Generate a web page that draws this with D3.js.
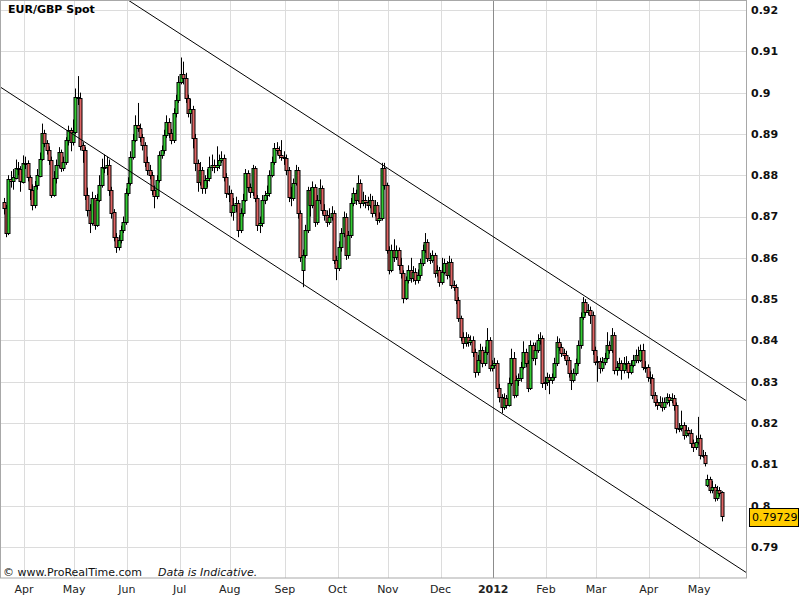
<!DOCTYPE html>
<html>
<head>
<meta charset="utf-8">
<script src="https://cdn.jsdelivr.net/npm/d3@7"></script>
<style>
body { margin: 0; background: #fff; }
text { font-family: Verdana, "DejaVu Sans", sans-serif; }
</style>
</head>
<body>
<script>
// daily EUR/GBP candles, prices in pips (x 0.0001), first session Mon 21 Mar 2011
var firstDay = new Date(2011, 2, 21);

var opens = [
8735,8720,8660,8790,8785,8795,8818,8815,8785,8830, 8830,8795,8765,8728,8775,8800,8840,8903,8878,8860,
8837,8752,8793,8825,8856,8818,8832,8885,8910,8880, 8905,8990,8988,8873,8860,8752,8716,8685,8745,8680,
8740,8776,8820,8820,8825,8765,8710,8650,8626,8643, 8667,8687,8757,8781,8844,8885,8921,8914,8892,8873,
8832,8813,8800,8764,8750,8788,8849,8860,8897,8929, 8902,8885,8950,8982,9026,9045,9035,8987,8950,8960,
8890,8830,8784,8813,8769,8788,8793,8820,8825,8820, 8825,8837,8842,8796,8757,8757,8711,8728,8733,8667,
8708,8740,8805,8771,8759,8817,8745,8680,8685,8740, 8752,8757,8800,8832,8866,8861,8849,8844,8842,8813,
8747,8745,8781,8813,8708,8571,8607,8667,8764,8728, 8771,8687,8740,8769,8716,8704,8687,8699,8708,8595,
8575,8626,8660,8699,8607,8655,8733,8757,8740,8781, 8733,8740,8735,8728,8740,8708,8728,8692,8697,8818,
8776,8619,8571,8619,8602,8619,8583,8563,8503,8546, 8570,8551,8566,8546,8558,8587,8619,8638,8600,8595,
8607,8563,8570,8541,8566,8587,8558,8590,8534,8530, 8498,8454,8408,8394,8408,8396,8401,8372,8324,8353,
8377,8345,8372,8401,8333,8341,8345,8285,8263,8239, 8261,8244,8297,8358,8268,8304,8309,8336,8372,8345,
8285,8389,8358,8377,8401,8406,8297,8299,8311,8304, 8311,8345,8396,8384,8370,8365,8353,8321,8304,8321,
8345,8389,8457,8493,8469,8474,8462,8377,8348,8350, 8333,8348,8358,8389,8377,8413,8328,8336,8345,8328,
8345,8345,8324,8341,8353,8365,8353,8377,8336,8336, 8312,8310,8268,8251,8244,8251,8239,8251,8263,8256,
8261,8244,8188,8188,8195,8171,8183,8176,8152,8142, 8154,8164,8123,8123,8050,8065,8039,8046,8020,8039,
8032
];

var highs = [
8745,8728,8800,8810,8815,8838,8832,8822,8848,8845, 8836,8800,8778,8786,8815,8855,8925,8910,8885,8870,
8845,8810,8838,8868,8862,8845,8892,8920,8915,8935, 9010,9040,9000,8880,8868,8770,8730,8760,8752,8755,
8800,8840,8850,8845,8838,8772,8718,8660,8655,8678, 8700,8768,8795,8858,8900,8945,8975,8925,8900,8880,
8845,8825,8808,8775,8800,8858,8872,8910,8945,8938, 8912,8962,8995,9040,9085,9075,9048,8995,8985,8968,
8900,8838,8832,8820,8800,8815,8845,8850,8838,8870, 8850,8858,8850,8805,8775,8765,8745,8748,8740,8720,
8755,8815,8812,8780,8825,8822,8752,8700,8752,8762, 8775,8812,8845,8878,8880,8870,8885,8858,8850,8820,
8772,8792,8825,8820,8715,8620,8680,8772,8770,8785, 8778,8752,8790,8775,8730,8715,8720,8725,8715,8605,
8640,8672,8712,8708,8665,8745,8770,8765,8800,8790, 8760,8752,8748,8755,8750,8740,8735,8710,8830,8830,
8782,8628,8632,8645,8630,8625,8600,8570,8555,8582, 8600,8580,8575,8572,8598,8632,8660,8645,8612,8618,
8612,8582,8578,8600,8598,8592,8605,8598,8545,8536, 8505,8460,8420,8420,8415,8412,8410,8380,8365,8392,
8385,8385,8430,8408,8352,8358,8352,8295,8270,8272, 8268,8310,8380,8372,8315,8320,8348,8398,8380,8352,
8400,8395,8395,8415,8420,8412,8312,8322,8318,8320, 8358,8410,8405,8392,8380,8375,8360,8328,8332,8356,
8400,8468,8505,8500,8488,8482,8470,8385,8362,8358, 8360,8370,8420,8398,8430,8420,8350,8358,8352,8360,
8362,8350,8352,8365,8378,8385,8390,8392,8350,8342, 8325,8318,8275,8258,8265,8262,8262,8272,8270,8272,
8268,8250,8200,8230,8202,8195,8190,8185,8160,8170, 8215,8172,8135,8130,8075,8070,8060,8052,8048,8045,
8035
];

var lows = [
8705,8650,8655,8770,8765,8790,8800,8760,8780,8815, 8785,8740,8715,8720,8765,8795,8835,8868,8850,8825,
8745,8748,8780,8818,8808,8810,8825,8872,8858,8872, 8900,8970,8860,8830,8740,8700,8660,8678,8668,8675,
8735,8770,8805,8800,8750,8695,8640,8612,8618,8635, 8660,8680,8750,8775,8838,8880,8905,8880,8860,8820,
8800,8790,8752,8720,8742,8782,8840,8852,8890,8890, 8875,8878,8940,8975,9020,9020,8975,8940,8925,8865,
8810,8760,8775,8755,8755,8770,8785,8810,8805,8810, 8815,8830,8785,8745,8735,8700,8690,8710,8650,8660,
8700,8735,8760,8745,8750,8735,8665,8660,8675,8730, 8740,8748,8795,8825,8850,8840,8835,8825,8800,8735,
8725,8738,8775,8695,8590,8529,8600,8660,8700,8720, 8675,8680,8730,8705,8690,8675,8680,8690,8585,8546,
8568,8615,8650,8595,8598,8648,8725,8728,8735,8720, 8725,8720,8715,8720,8698,8700,8680,8685,8690,8765,
8610,8560,8565,8590,8595,8570,8550,8490,8498,8538, 8540,8542,8535,8538,8550,8580,8612,8590,8585,8588,
8552,8555,8530,8535,8560,8548,8552,8525,8520,8488, 8445,8398,8380,8385,8385,8388,8360,8310,8315,8345,
8335,8338,8365,8325,8325,8332,8275,8250,8224,8232, 8235,8240,8290,8260,8262,8290,8300,8330,8335,8275,
8280,8350,8340,8370,8390,8285,8280,8290,8270,8295, 8305,8338,8375,8360,8355,8340,8310,8280,8298,8315,
8338,8380,8450,8460,8462,8440,8365,8340,8300,8320, 8325,8340,8352,8368,8370,8318,8315,8328,8305,8320,
8330,8308,8318,8335,8345,8345,8348,8328,8322,8300, 8295,8258,8240,8232,8238,8228,8232,8245,8240,8248,
8230,8175,8178,8180,8160,8165,8168,8140,8130,8135, 8148,8112,8115,8095,8045,8030,8030,8010,8012,8022,
7962
];

var closes = [
8720,8660,8790,8785,8795,8818,8815,8785,8830,8830, 8795,8765,8728,8775,8800,8840,8903,8878,8860,8837,
8752,8793,8825,8856,8818,8832,8885,8910,8880,8905, 8990,8988,8873,8860,8752,8716,8685,8745,8680,8740,
8776,8820,8820,8825,8765,8710,8650,8626,8643,8667, 8687,8757,8781,8844,8885,8921,8914,8892,8873,8832,
8813,8800,8764,8750,8788,8849,8860,8897,8929,8902, 8885,8950,8982,9026,9045,9035,8987,8950,8960,8890,
8830,8784,8813,8769,8788,8793,8820,8825,8820,8825, 8837,8842,8796,8757,8757,8711,8728,8733,8667,8708,
8740,8805,8771,8759,8817,8745,8680,8685,8740,8752, 8757,8800,8832,8866,8861,8849,8844,8842,8813,8747,
8745,8781,8813,8708,8602,8607,8667,8764,8728,8771, 8687,8740,8769,8716,8704,8687,8699,8708,8595,8575,
8626,8660,8699,8607,8655,8733,8757,8740,8781,8733, 8740,8735,8728,8740,8708,8728,8692,8697,8818,8776,
8619,8571,8619,8602,8619,8583,8563,8503,8546,8570, 8551,8566,8546,8558,8587,8619,8638,8600,8595,8607,
8563,8570,8541,8566,8587,8558,8590,8534,8530,8498, 8454,8408,8394,8408,8396,8401,8372,8324,8353,8377,
8345,8372,8401,8333,8341,8345,8285,8263,8239,8261, 8244,8297,8358,8268,8304,8309,8336,8372,8345,8285,
8389,8358,8377,8401,8406,8297,8299,8311,8304,8311, 8345,8396,8384,8370,8365,8353,8321,8304,8321,8345,
8389,8457,8493,8469,8474,8462,8377,8348,8350,8333, 8348,8358,8389,8377,8413,8328,8336,8345,8328,8345,
8345,8324,8341,8353,8365,8353,8377,8336,8336,8312, 8310,8268,8251,8244,8251,8239,8251,8263,8256,8261,
8244,8188,8188,8195,8171,8183,8176,8152,8142,8154, 8164,8123,8123,8104,8065,8039,8046,8020,8039,8032,
7973
];

var priceTicks = [0.79, 0.8, 0.81, 0.82, 0.83, 0.84, 0.85, 0.86, 0.87, 0.88, 0.89, 0.9, 0.91, 0.92];
var monthNames = ["Jan","Feb","Mar","Apr","May","Jun","Jul","Aug","Sep","Oct","Nov","Dec"];
var chartTitle = "EUR/GBP Spot";
var lastQuote = 0.79729;

// hand-drawn channel lines: [candle index, price]
var upperChannel = [[-1.5, 0.9425], [310.5, 0.8253]];
var lowerChannel = [[-1.5, 0.9014], [310.5, 0.7837]];

var plotW = 747, plotH = 578;

var svg = d3.select("body").append("svg")
            .attr("width", 800)
            .attr("height", 600);

// weekdays only, one per candle
var days = d3.timeDay.range(firstDay, new Date(2012, 6, 1))
             .filter(function (d) { return d.getDay() !== 0 && d.getDay() !== 6; })
             .slice(0, closes.length);

var x = d3.scaleLinear().domain([-1.5, 310.5]).range([0, plotW]);
var y = d3.scaleLinear().domain([0.79, 0.92]).range([547, 10]);

// month starts
var monthStarts = [];
days.forEach(function (d, i) {
  if (i > 0 && d.getMonth() !== days[i - 1].getMonth()) {
    monthStarts.push({ i: i, date: d });
  }
});

// grid
svg.append("g").selectAll("line")
   .data(priceTicks)
   .enter().append("line")
   .attr("x1", 0).attr("x2", plotW)
   .attr("y1", function (d) { return Math.round(y(d)) + 0.5; })
   .attr("y2", function (d) { return Math.round(y(d)) + 0.5; })
   .style("stroke", "#dcdcdc");

svg.append("g").selectAll("line")
   .data(monthStarts)
   .enter().append("line")
   .attr("x1", function (d) { return Math.round(x(d.i - 0.5)) + 0.5; })
   .attr("x2", function (d) { return Math.round(x(d.i - 0.5)) + 0.5; })
   .attr("y1", 0).attr("y2", plotH)
   .style("stroke", function (d) { return d.date.getMonth() === 0 ? "#8c8c8c" : "#dcdcdc"; });

// candles
var candles = svg.append("g").selectAll("g")
                 .data(closes)
                 .enter().append("g");

candles.append("line")
       .attr("x1", function (d, i) { return Math.round(x(i)) + 0.5; })
       .attr("x2", function (d, i) { return Math.round(x(i)) + 0.5; })
       .attr("y1", function (d, i) { return y(Math.max(highs[i], opens[i], d) / 10000); })
       .attr("y2", function (d, i) { return y(Math.min(lows[i], opens[i], d) / 10000); })
       .style("stroke", "#000");

candles.append("rect")
       .attr("x", function (d, i) { return Math.round(x(i)) - 1; })
       .attr("width", 3)
       .attr("y", function (d, i) { return Math.round(y(Math.max(opens[i], d) / 10000)) + 0.5; })
       .attr("height", function (d, i) { return Math.max(1, Math.round(Math.abs(y(opens[i] / 10000) - y(d / 10000)))); })
       .style("fill", function (d, i) { return d >= opens[i] ? "#33cc33" : "#e06464"; })
       .style("stroke", "#000");

// channel lines
svg.append("clipPath").attr("id", "plotClip")
   .append("rect").attr("width", plotW).attr("height", plotH);

var channelLine = d3.line()
                    .x(function (d) { return x(d[0]); })
                    .y(function (d) { return y(d[1]); });

svg.append("g").attr("clip-path", "url(#plotClip)")
   .selectAll("path")
   .data([upperChannel, lowerChannel])
   .enter().append("path")
   .attr("d", channelLine)
   .style("fill", "none")
   .style("stroke", "#000")
   .style("stroke-width", 1);

// frame
svg.append("rect")
   .attr("x", 0.5).attr("y", 0.5)
   .attr("width", plotW - 1).attr("height", plotH - 0.5)
   .style("fill", "none")
   .style("stroke", "#a8a8a8");

// price labels on the right
svg.append("g").selectAll("text")
   .data(priceTicks)
   .enter().append("text")
   .attr("x", 751)
   .attr("y", function (d) { return y(d); })
   .attr("dy", "0.36em")
   .style("font-size", "11px")
   .style("font-weight", "bold")
   .style("fill", "#111")
   .text(function (d) { return String(+d.toFixed(2)); });

// last quote tag, drawn over the 0.8 label as in the source chart
svg.append("rect")
   .attr("x", 749.5)
   .attr("y", Math.round(y(lastQuote)) - 8.5)
   .attr("width", 49).attr("height", 18)
   .style("fill", "#ffcc00")
   .style("stroke", "#000");

svg.append("text")
   .attr("x", 752)
   .attr("y", y(lastQuote))
   .attr("dy", "0.38em")
   .style("font-size", "11px")
   .style("fill", "#000")
   .text(lastQuote.toFixed(5));

// month labels
svg.append("g").selectAll("text")
   .data(monthStarts)
   .enter().append("text")
   .attr("x", function (d) { return x(d.i - 0.5); })
   .attr("y", 593)
   .attr("text-anchor", "middle")
   .style("font-size", "11px")
   .style("font-weight", function (d) { return d.date.getMonth() === 0 ? "bold" : "normal"; })
   .style("fill", "#222")
   .text(function (d) { return d.date.getMonth() === 0 ? d.date.getFullYear() : monthNames[d.date.getMonth()]; });

// title and footer
svg.append("text")
   .attr("x", 8).attr("y", 13)
   .style("font-size", "11px")
   .style("font-weight", "bold")
   .text(chartTitle);

svg.append("text")
   .attr("x", 3).attr("y", 576)
   .style("font-size", "11px")
   .style("fill", "#111")
   .text("\u00a9  www.ProRealTime.com");

svg.append("text")
   .attr("x", 158).attr("y", 576)
   .style("font-size", "11px")
   .style("font-style", "italic")
   .style("fill", "#111")
   .text("Data is Indicative.");
</script>
</body>
</html>
